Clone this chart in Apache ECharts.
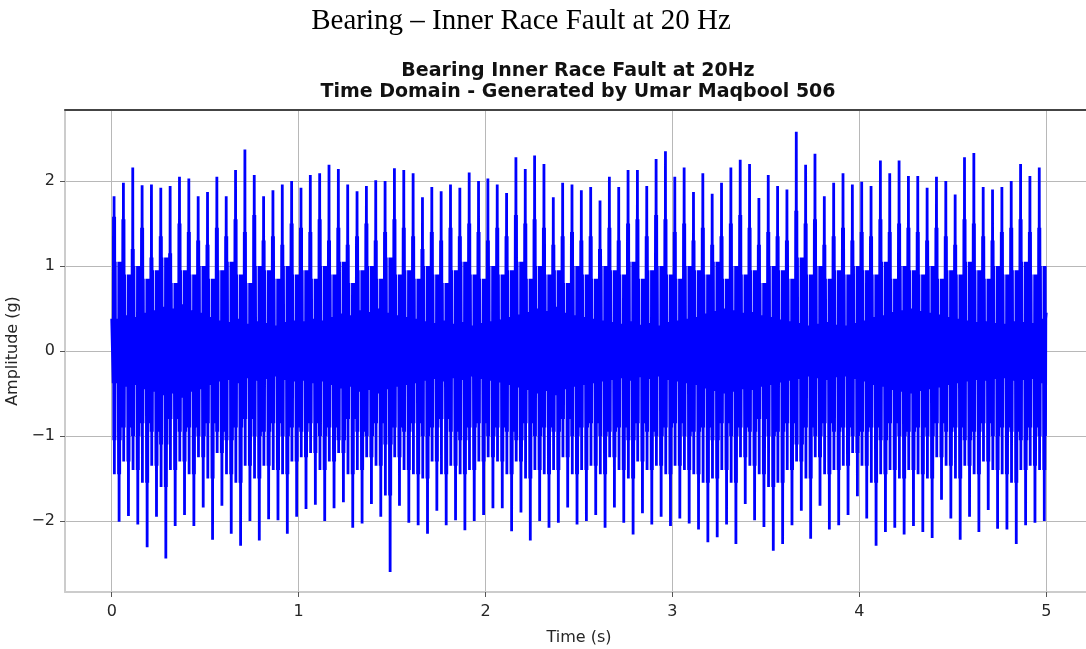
<!DOCTYPE html>
<html>
<head>
<meta charset="utf-8">
<script src="https://cdn.jsdelivr.net/npm/echarts@6/dist/echarts.min.js"></script>
<style>
html,body{margin:0;padding:0;background:#ffffff;}
#chart{width:1086px;height:649px;}
</style>
</head>
<body>
<div id="chart"></div>
<script>
// ---------- texts ----------
const pageTitle = 'Bearing – Inner Race Fault at 20 Hz';
const chartTitleLines = ['Bearing Inner Race Fault at 20Hz', 'Time Domain - Generated by Umar Maqbool 506'];
const xAxisName = 'Time (s)';
const yAxisName = 'Amplitude (g)';

// ---------- axes ----------
const xTicks = [0, 1, 2, 3, 4, 5];
const yTicks = [-2, -1, 0, 1, 2];
const xRange = [-0.25, 5.25];
const yRange = [-2.835, 2.835];

// ---------- signal timing (s) ----------
const firstImpact = 0.0125;   // first impact
const faultPeriod = 0.05;     // 20 Hz impacts
const troughDelay = 0.027;    // deepest negative swing after each impact
const signalEnd = 5.0;
const finalSample = 0.45;

// ---------- per-impact values (g) ----------
const peakHigh = [
  1.82,1.98,2.16,1.95,1.96,1.92,1.94,2.05,2.03,1.82,
  1.87,2.05,1.82,2.13,2.37,2.07,1.82,1.89,1.96,2.00,
  1.92,2.07,2.09,2.19,2.14,1.96,1.88,1.94,2.01,2.00,
  2.15,2.13,2.09,1.81,1.93,1.88,1.96,1.92,2.10,2.00,
  2.03,1.96,1.86,2.28,2.14,2.30,2.20,1.81,1.98,1.96,
  1.89,1.93,1.77,2.05,1.93,2.13,2.13,1.94,2.26,2.35,
  2.05,2.16,1.87,2.09,1.85,1.98,2.16,2.25,2.20,1.80,
  2.07,1.94,1.90,2.58,2.19,2.32,1.82,1.98,2.09,1.96,
  1.99,1.94,2.24,2.09,2.24,2.06,2.06,1.92,2.05,2.00,
  1.84,2.28,2.33,1.93,1.90,1.93,2.00,2.20,2.06,2.16
];
const peakLow = [
  -2.01,-1.94,-2.04,-2.31,-1.95,-2.44,-2.06,-1.93,-2.06,-1.84,
  -2.22,-1.82,-2.15,-2.29,-2.00,-2.23,-1.98,-1.99,-2.15,-1.95,
  -1.86,-1.81,-2.00,-1.85,-1.78,-2.08,-2.03,-1.80,-1.95,-2.60,
  -1.82,-2.02,-2.05,-2.15,-1.88,-2.05,-1.99,-2.11,-2.00,-1.93,
  -1.85,-1.85,-2.12,-1.90,-2.23,-2.00,-2.08,-2.02,-1.84,-2.04,
  -2.00,-1.93,-2.08,-1.84,-2.02,-2.16,-1.91,-2.04,-1.95,-2.06,
  -1.97,-2.03,-2.10,-2.25,-2.19,-2.04,-2.27,-1.80,-1.99,-2.07,
  -2.35,-2.27,-2.05,-1.88,-2.21,-1.82,-2.10,-2.05,-1.93,-1.71,
  -1.97,-2.29,-2.13,-2.08,-2.16,-2.06,-2.13,-2.20,-1.75,-1.97,
  -2.22,-1.95,-2.13,-1.87,-2.09,-2.10,-2.27,-2.05,-2.02,-2.00
];
// secondary (ring-down) swings beside each impact, estimated
const ringHigh = [
  1.58,1.55,1.20,1.45,1.10,1.35,1.15,1.50,1.40,1.30,
  1.25,1.45,1.35,1.55,1.40,1.60,1.30,1.35,1.25,1.50,
  1.45,1.40,1.55,1.30,1.45,1.25,1.35,1.50,1.30,1.40,
  1.55,1.45,1.35,1.20,1.40,1.30,1.45,1.35,1.50,1.40,
  1.30,1.45,1.35,1.60,1.50,1.55,1.45,1.25,1.35,1.40,
  1.30,1.35,1.20,1.45,1.30,1.50,1.55,1.35,1.60,1.55,
  1.40,1.50,1.30,1.45,1.25,1.35,1.50,1.60,1.45,1.25,
  1.40,1.35,1.30,1.65,1.50,1.55,1.25,1.35,1.45,1.30,
  1.40,1.35,1.55,1.40,1.50,1.45,1.40,1.30,1.45,1.35,
  1.25,1.55,1.50,1.35,1.30,1.40,1.45,1.55,1.40,1.45
];
const ringLow = [
  -1.45,-1.30,-1.40,-1.55,-1.35,-1.60,-1.40,-1.30,-1.45,-1.25,
  -1.50,-1.20,-1.45,-1.55,-1.35,-1.50,-1.35,-1.40,-1.45,-1.30,
  -1.25,-1.20,-1.40,-1.30,-1.20,-1.45,-1.40,-1.25,-1.35,-1.70,
  -1.25,-1.40,-1.45,-1.50,-1.30,-1.45,-1.35,-1.45,-1.40,-1.30,
  -1.25,-1.30,-1.45,-1.30,-1.50,-1.40,-1.45,-1.40,-1.25,-1.45,
  -1.40,-1.35,-1.45,-1.25,-1.40,-1.50,-1.30,-1.40,-1.35,-1.45,
  -1.35,-1.40,-1.45,-1.55,-1.50,-1.40,-1.55,-1.25,-1.35,-1.45,
  -1.60,-1.55,-1.40,-1.30,-1.50,-1.25,-1.45,-1.40,-1.35,-1.20,
  -1.35,-1.55,-1.45,-1.40,-1.50,-1.40,-1.45,-1.50,-1.25,-1.35,
  -1.50,-1.35,-1.45,-1.30,-1.40,-1.45,-1.55,-1.40,-1.35,-1.40
];
// smaller swing reaching across zero inside each burst, estimated
const ringMid = [
  1.05,0.90,1.00,0.85,0.95,1.10,0.80,0.95,0.90,1.00,
  0.85,0.95,1.05,0.90,0.80,1.00,0.95,0.85,1.00,0.90,
  0.95,0.85,1.00,0.90,1.05,0.80,0.95,1.00,0.85,1.10,
  0.90,0.95,0.85,1.00,0.90,0.80,0.95,1.05,0.90,0.85,
  1.00,0.90,0.95,1.05,0.85,1.00,0.90,0.95,0.80,1.00,
  0.90,0.85,1.00,0.95,0.90,1.05,0.85,0.95,1.00,0.90,
  0.85,1.00,0.95,0.90,1.05,0.85,1.00,0.90,0.95,0.80,
  1.00,0.95,0.85,1.10,0.90,1.00,0.85,0.95,0.90,1.00,
  0.95,0.90,1.05,0.85,1.00,0.95,0.90,1.00,0.85,0.95,
  0.90,1.05,0.95,0.85,1.00,0.90,0.95,1.05,0.90,1.00
];
// half-width of the background vibration band around each impact
const bandEnvelope = [
  0.38,0.42,0.40,0.45,0.48,0.52,0.50,0.55,0.48,0.45,
  0.40,0.36,0.34,0.38,0.32,0.35,0.33,0.30,0.34,0.36,
  0.35,0.38,0.36,0.40,0.44,0.42,0.48,0.46,0.50,0.45,
  0.42,0.40,0.38,0.35,0.33,0.36,0.32,0.34,0.30,0.33,
  0.35,0.37,0.40,0.43,0.46,0.50,0.47,0.52,0.45,0.42,
  0.40,0.38,0.36,0.34,0.32,0.35,0.31,0.33,0.30,0.34,
  0.36,0.38,0.40,0.44,0.47,0.50,0.48,0.45,0.46,0.42,
  0.40,0.37,0.35,0.33,0.30,0.32,0.34,0.31,0.30,0.33,
  0.36,0.40,0.42,0.46,0.48,0.50,0.47,0.45,0.43,0.40,
  0.38,0.36,0.34,0.35,0.33,0.32,0.35,0.34,0.33,0.38
];

// ---------- build the line from the arrays ----------
const step = 0.0016;
const signal = [];
signal.push([0, bandEnvelope[0]]);
for (let k = 0; k < peakHigh.length; k++) {
  const t0 = firstImpact + k * faultPeriod;
  const e = bandEnvelope[k];
  const eNext = bandEnvelope[Math.min(k + 1, bandEnvelope.length - 1)];
  // impact burst
  signal.push([t0 - 3 * step, -e]);
  signal.push([t0 - 2 * step, ringHigh[k]]);
  signal.push([t0 - 1 * step, -ringMid[k]]);
  signal.push([t0, peakHigh[k]]);
  signal.push([t0 + 1 * step, ringLow[k]]);
  signal.push([t0 + 2 * step, ringHigh[k]]);
  signal.push([t0 + 3 * step, -ringMid[k]]);
  signal.push([t0 + 4 * step, ringMid[k]]);
  signal.push([t0 + 5 * step, -e]);
  // background band
  let s = 1;
  for (let dt = 7 * step; dt < troughDelay - 4 * step; dt += step) { signal.push([t0 + dt, s * e]); s = -s; }
  // negative swing
  const tt = t0 + troughDelay;
  signal.push([tt - 3 * step, e]);
  signal.push([tt - 2 * step, ringLow[k]]);
  signal.push([tt - 1 * step, ringMid[k]]);
  signal.push([tt, peakLow[k]]);
  signal.push([tt + 1 * step, ringMid[k]]);
  signal.push([tt + 2 * step, ringLow[k]]);
  signal.push([tt + 3 * step, ringMid[k]]);
  signal.push([tt + 4 * step, -ringMid[k]]);
  signal.push([tt + 5 * step, e]);
  // background band up to the next impact
  s = -1;
  for (let dt = 7 * step; tt + dt < t0 + faultPeriod - 3.5 * step && tt + dt < signalEnd; dt += step) {
    signal.push([tt + dt, s * eNext]); s = -s;
  }
}
signal.push([signalEnd, finalSample]);

// ---------- chart ----------
const chart = echarts.init(document.getElementById('chart'), null, { renderer: 'canvas' });
const labelFont = { fontFamily: 'DejaVu Sans', fontSize: 16, color: '#262626' };
const minusFmt = v => (v < 0 ? '\u2212' + Math.abs(v) : String(v));

chart.setOption({
  animation: false,
  backgroundColor: '#ffffff',
  grid: { left: 65, right: -7, top: 110, bottom: 57, containLabel: false, outerBoundsMode: 'none' },
  graphic: [
    { type: 'text', x: 521, y: 21, silent: true,
      style: { text: pageTitle, font: '29px "Liberation Serif", serif', fill: '#000000',
               align: 'center', verticalAlign: 'middle', textAlign: 'center', textVerticalAlign: 'middle' } },
    { type: 'text', x: 578, y: 71, silent: true,
      style: { text: chartTitleLines[0], font: 'bold 19px "DejaVu Sans"', fill: '#111111',
               align: 'center', verticalAlign: 'middle', textAlign: 'center', textVerticalAlign: 'middle' } },
    { type: 'text', x: 578, y: 92, silent: true,
      style: { text: chartTitleLines[1], font: 'bold 19px "DejaVu Sans"', fill: '#111111',
               align: 'center', verticalAlign: 'middle', textAlign: 'center', textVerticalAlign: 'middle' } }
  ],
  xAxis: [
    {
      type: 'value', min: xRange[0], max: xRange[1], position: 'bottom',
      name: xAxisName, nameLocation: 'middle', nameGap: 38,
      nameTextStyle: { fontFamily: 'DejaVu Sans', fontSize: 16, color: '#262626' },
      axisLine: { show: true, onZero: false, lineStyle: { color: '#cccccc', width: 2 } },
      axisTick: { show: true, length: 5, customValues: xTicks, lineStyle: { color: '#555555', width: 1 } },
      axisLabel: Object.assign({ customValues: xTicks, margin: 12, formatter: minusFmt }, labelFont),
      splitLine: { show: true, lineStyle: { color: '#b8b8b8', width: 1 } }
    },
    {
      type: 'value', min: xRange[0], max: xRange[1], position: 'top',
      axisLine: { show: true, onZero: false, lineStyle: { color: '#444444', width: 2 } },
      axisTick: { show: false }, axisLabel: { show: false }, splitLine: { show: false }
    }
  ],
  yAxis: {
    type: 'value', min: yRange[0], max: yRange[1],
    name: yAxisName, nameLocation: 'middle', nameGap: 34,
    nameTextStyle: { fontFamily: 'DejaVu Sans', fontSize: 16, color: '#262626' },
    axisLine: { show: true, onZero: false, lineStyle: { color: '#cccccc', width: 2 } },
    axisTick: { show: true, length: 5, customValues: yTicks, lineStyle: { color: '#555555', width: 1 } },
    axisLabel: Object.assign({ customValues: yTicks, margin: 10, formatter: minusFmt }, labelFont),
    splitLine: { show: true, lineStyle: { color: '#b8b8b8', width: 1 } }
  },
  series: [{
    type: 'line', xAxisIndex: 0, data: signal,
    showSymbol: false, symbol: 'none', silent: true, clip: true,
    lineStyle: { color: '#0000ff', width: 2.8 }
  }]
});
</script>
</body>
</html>
